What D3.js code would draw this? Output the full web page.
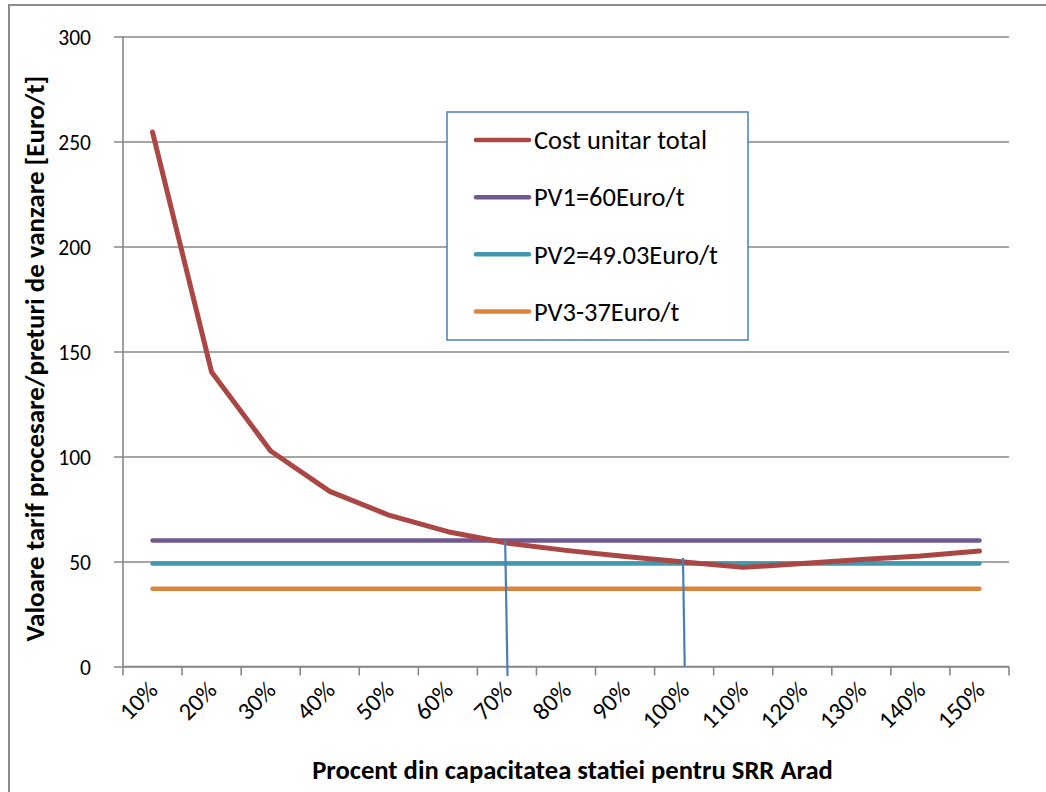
<!DOCTYPE html>
<html>
<head>
<meta charset="utf-8">
<script src="https://cdn.jsdelivr.net/npm/d3@7"></script>
<style>
  html, body { margin: 0; padding: 0; background: #fff; }
  svg { display: block; }
  text { font-family: Carlito, Calibri, Lato, "Open Sans", sans-serif; fill: #000; }
</style>
</head>
<body>
<svg id="chart" width="1046" height="792"></svg>
<script>
// ---- data ----
const categories = ["10%","20%","30%","40%","50%","60%","70%","80%","90%","100%","110%","120%","130%","140%","150%"];
const costTotal = [254.5, 140.2, 102.6, 83.4, 72.1, 64.2, 58.8, 55.3, 52.4, 49.8, 47.2, 49.0, 51.0, 52.6, 55.0];
const pv1 = [60, 60, 60, 60, 60, 60, 60, 60, 60, 60, 60, 60, 60, 60, 60];
const pv2 = [49.03, 49.03, 49.03, 49.03, 49.03, 49.03, 49.03, 49.03, 49.03, 49.03, 49.03, 49.03, 49.03, 49.03, 49.03];
const pv3 = [37, 37, 37, 37, 37, 37, 37, 37, 37, 37, 37, 37, 37, 37, 37];
const seriesNames = ["Cost unitar total", "PV1=60Euro/t", "PV2=49.03Euro/t", "PV3-37Euro/t"];
const yTicks = [0, 50, 100, 150, 200, 250, 300];
// break-even markers (category index, value) -> (category index, value)
const markerFrom = [[5.97, 60.0], [8.98, 51.7]];
const markerTo = [[6.01, -4.5], [9.01, 0]];
const yTitle = "Valoare tarif procesare/preturi de vanzare [Euro/t]";
const xTitle = "Procent din capacitatea statiei pentru SRR Arad";

(function () {
// ---- layout ----
const svg = d3.select("#chart");
const pL = 123, pR = 1009, pT = 36.5, pB = 666.5;
const colors = ["#AA4643", "#71588F", "#4198AF", "#DB843D"];
const gridColor = "#888888";

// scale a text's font size so its rendered width matches a target width
function fit(sel, size, target) {
  sel.attr("font-size", size);
  const w = sel.node().getComputedTextLength();
  const s = w > 0 ? size * target / w : size;
  sel.attr("font-size", s);
  return s;
}

// outer border
svg.append("rect").attr("x", 9).attr("y", 5).attr("width", 1100).attr("height", 1000)
  .attr("fill", "none").attr("stroke", "#8c8c8c").attr("stroke-width", 2);

const x = d3.scaleBand().domain(categories).range([pL, pR]);
const bw = x.bandwidth();
const xi = d3.scaleLinear().domain([0, categories.length - 1])
  .range([x(categories[0]) + bw / 2, x(categories[categories.length - 1]) + bw / 2]);
const y = d3.scaleLinear().domain([0, 300]).range([pB, pT]);

// gridlines + y axis
const yAxis = d3.axisLeft(y).tickValues(yTicks).tickSize(-(pR - pL)).tickSizeOuter(0).tickPadding(0).tickFormat(d3.format("d"));
const gy = svg.append("g").attr("transform", `translate(${pL},0)`).call(yAxis);
gy.select(".domain").remove();
gy.selectAll(".tick line").attr("x1", -9).attr("stroke", gridColor).attr("stroke-width", 1.6);
gy.selectAll(".tick text").attr("x", -32).attr("dy", "0.35em").attr("font-size", 21.5)
  .attr("font-family", "Carlito, Calibri, Lato, sans-serif").attr("fill", "#000");
svg.append("line").attr("x1", pL).attr("x2", pL).attr("y1", pT).attr("y2", pB)
  .attr("stroke", gridColor).attr("stroke-width", 1.6);

// x axis
const gx = svg.append("g").attr("transform", `translate(0,${pB})`);
gx.append("line").attr("x1", pL).attr("x2", pR).attr("stroke", gridColor).attr("stroke-width", 1.6);
const boundaries = categories.map(c => x(c)).concat([pR]);
gx.selectAll("line.tk").data(boundaries).join("line").attr("class", "tk")
  .attr("x1", d => d).attr("x2", d => d).attr("y1", 0).attr("y2", 9)
  .attr("stroke", gridColor).attr("stroke-width", 1.6);
gx.selectAll("text.lbl").data(categories).join("text").attr("class", "lbl")
  .attr("transform", d => `translate(${x(d) + bw / 2 + 0.5},${19}) rotate(-45)`)
  .attr("text-anchor", "end").attr("dy", "0.35em").attr("font-size", 24.5)
  .text(d => d);

// series lines
const line = d3.line().x((d, i) => xi(i)).y(d => y(d));
const allSeries = [costTotal, pv1, pv2, pv3];
const order = [3, 2, 1, 0];
svg.append("g").selectAll("path").data(order).join("path")
  .attr("d", k => line(allSeries[k])).attr("fill", "none")
  .attr("stroke", k => colors[k]).attr("stroke-width", k => k === 0 ? 5 : 4.5)
  .attr("stroke-linecap", "round").attr("stroke-linejoin", "round");

// marker lines
svg.append("g").selectAll("line").data(markerFrom).join("line")
  .attr("x1", d => xi(d[0])).attr("y1", d => y(d[1]))
  .attr("x2", (d, i) => xi(markerTo[i][0])).attr("y2", (d, i) => y(markerTo[i][1]))
  .attr("stroke", "#4A7EBB").attr("stroke-width", 2.2);

// legend
const lg = svg.append("g");
lg.append("rect").attr("x", 447).attr("y", 112).attr("width", 301).attr("height", 228)
  .attr("fill", "#fff").attr("stroke", "#4A7EBB").attr("stroke-width", 1.5);
const legY = d3.scalePoint().domain(seriesNames).range([140, 311.5]);
const legTexts = [];
seriesNames.forEach((n, i) => {
  lg.append("line").attr("x1", 476).attr("x2", 529).attr("y1", legY(n)).attr("y2", legY(n))
    .attr("stroke", colors[i]).attr("stroke-width", 4.5).attr("stroke-linecap", "round");
  legTexts.push(lg.append("text").attr("x", 534).attr("y", legY(n)).attr("dy", "0.35em").text(n));
});
const legSize = fit(legTexts[0], 21, 173);
legTexts.forEach(t => t.attr("font-size", legSize));

// axis titles
const yt = svg.append("text").attr("transform", `translate(35,${358.5}) rotate(-90)`)
  .attr("text-anchor", "middle").attr("dy", "0.35em").attr("font-weight", "bold").text(yTitle);
fit(yt, 20, 566);
const xt = svg.append("text").attr("x", 572.5).attr("y", 770).attr("text-anchor", "middle").attr("dy", "0.35em")
  .attr("font-weight", "bold").text(xTitle);
fit(xt, 20, 521);
})();
</script>
</body>
</html>
